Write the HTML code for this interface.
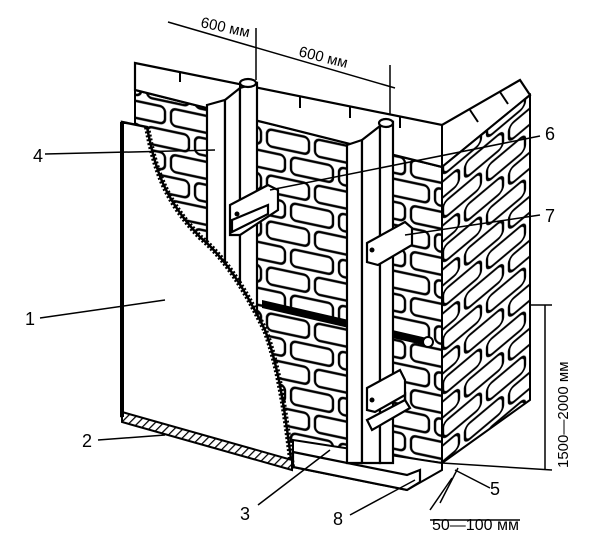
<!DOCTYPE html>
<html><head><meta charset="utf-8"><style>
html,body{margin:0;padding:0;background:#fff;}
svg{display:block}
text{font-family:"Liberation Sans",sans-serif;fill:#000}
</style></head><body>
<svg width="600" height="540" viewBox="0 0 600 540" xmlns="http://www.w3.org/2000/svg">
<defs>
<pattern id="bf" width="48" height="46" patternUnits="userSpaceOnUse" patternTransform="skewY(12)">
<rect x="3" y="3" width="42" height="17" rx="5" fill="#fff" stroke="#000" stroke-width="2.4"/>
<rect x="-21" y="26" width="42" height="17" rx="5" fill="#fff" stroke="#000" stroke-width="2.4"/>
<rect x="27" y="26" width="42" height="17" rx="5" fill="#fff" stroke="#000" stroke-width="2.4"/>
</pattern>
<pattern id="br" width="44" height="44" patternUnits="userSpaceOnUse" patternTransform="skewY(-40)">
<rect x="3" y="3" width="38" height="16" rx="5" fill="#fff" stroke="#000" stroke-width="2.4"/>
<rect x="-19" y="25" width="38" height="16" rx="5" fill="#fff" stroke="#000" stroke-width="2.4"/>
<rect x="25" y="25" width="38" height="16" rx="5" fill="#fff" stroke="#000" stroke-width="2.4"/>
</pattern>
<pattern id="hatch" width="6" height="6" patternUnits="userSpaceOnUse" patternTransform="rotate(45)">
<rect width="6" height="6" fill="#fff"/><line x1="0" y1="0" x2="0" y2="6" stroke="#000" stroke-width="2.5"/>
</pattern>
</defs>
<polygon points="135,90 442,167 442,463 135,420" fill="url(#bf)" stroke="#000" stroke-width="2"/>
<polygon points="135,63 442,125 520,80 530,95 442,167 135,90" fill="#fff" stroke="#000" stroke-width="2.2"/>
<polygon points="442,167 530,95 530,400 442,463" fill="url(#br)" stroke="#000" stroke-width="2"/>
<line x1="442" y1="125" x2="442" y2="167" stroke="#000" stroke-width="2"/>
<g stroke="#000" stroke-width="2" fill="none">
<line x1="180" y1="72" x2="180" y2="82"/><line x1="240" y1="84" x2="240" y2="96"/>
<line x1="300" y1="96" x2="300" y2="108"/><line x1="350" y1="106" x2="350" y2="118"/>
<line x1="400" y1="117" x2="400" y2="128"/><line x1="470" y1="110" x2="478" y2="122"/>
<line x1="500" y1="92" x2="508" y2="104"/>
</g>
<polygon points="293,440 442,463 442,470 407,490 293,467" fill="#fff" stroke="#000" stroke-width="2"/>
<polygon points="293,452 407,475 420,470 420,482 407,490 293,467" fill="#fff" stroke="#000" stroke-width="2.2"/>
<polygon points="262,300 427,338 427,346 262,308" fill="#000"/>
<circle cx="428" cy="342" r="5" fill="#fff" stroke="#000" stroke-width="2"/>
<g stroke="#000" stroke-width="2.2" fill="#fff">
<polygon points="207,105 225,100 225,440 207,440"/>
<polygon points="225,100 240,88 240,440 225,440"/>
<polygon points="240,88 257,83 257,440 240,440"/>
<ellipse cx="248" cy="83" rx="8" ry="4"/>
<polygon points="347,145 362,140 362,463 347,463"/>
<polygon points="362,140 380,126 380,463 362,463"/>
<polygon points="380,126 393,122 393,463 380,463"/>
<ellipse cx="386" cy="123" rx="7" ry="4"/>
<polygon points="230,205 268,185 278,190 278,210 240,235 230,235"/>
<polygon points="232,220 268,205 268,214 232,232"/>
<polygon points="367,243 405,222 412,228 412,245 378,265 367,262"/>
<polygon points="367,388 400,370 405,380 405,395 375,412 367,410"/>
<polygon points="367,420 405,400 410,408 372,430"/>
</g>
<circle cx="237" cy="214" r="2.5"/><circle cx="372" cy="250" r="2.5"/><circle cx="372" cy="400" r="2.5"/>
<path d="M122,122 L147,127 C155,170 165,200 200,237 C230,262 250,300 265,330 C280,370 286,420 292,467 L122,417 Z" fill="#fff" stroke="#000" stroke-width="2.5"/>
<path d="M147,127 C155,170 165,200 200,237 C230,262 250,300 265,330 C280,370 286,420 292,467" fill="none" stroke="#000" stroke-width="6" stroke-dasharray="2,2"/>
<polygon points="122,412 292,460 292,470 122,422" fill="url(#hatch)" stroke="#000" stroke-width="2"/>
<line x1="122" y1="122" x2="122" y2="417" stroke="#000" stroke-width="4"/>
<g stroke="#000" stroke-width="1.5" fill="none">
<line x1="168" y1="22" x2="395" y2="88"/>
<line x1="256" y1="28" x2="256" y2="80"/>
<line x1="390" y1="65" x2="390" y2="115"/>
<line x1="545" y1="305" x2="545" y2="470"/>
<line x1="530" y1="305" x2="552" y2="305"/>
<line x1="442" y1="463" x2="552" y2="470"/>
<line x1="440" y1="503" x2="458" y2="468"/>
<line x1="430" y1="510" x2="452" y2="478"/>
<line x1="430" y1="520" x2="520" y2="520"/>
<line x1="45" y1="154" x2="215" y2="150"/>
<line x1="540" y1="136" x2="270" y2="190"/>
<line x1="540" y1="215" x2="405" y2="235"/>
<line x1="40" y1="318" x2="165" y2="300"/>
<line x1="98" y1="440" x2="165" y2="435"/>
<line x1="258" y1="505" x2="330" y2="450"/>
<line x1="350" y1="515" x2="415" y2="480"/>
<line x1="490" y1="488" x2="455" y2="470"/>
</g>
<text x="200" y="27" font-size="15" transform="rotate(12 200 27)">600 мм</text>
<text x="298" y="56" font-size="15" transform="rotate(14 298 56)">600 мм</text>
<text x="33" y="162" font-size="18">4</text>
<text x="545" y="140" font-size="18">6</text>
<text x="545" y="222" font-size="18">7</text>
<text x="25" y="325" font-size="18">1</text>
<text x="82" y="447" font-size="18">2</text>
<text x="240" y="520" font-size="18">3</text>
<text x="333" y="525" font-size="18">8</text>
<text x="490" y="495" font-size="18">5</text>
<text x="432" y="530" font-size="16">50—100 мм</text>
<text x="0" y="0" font-size="15" transform="translate(568 468) rotate(-90)">1500—2000 мм</text>
</svg>
</body></html>
